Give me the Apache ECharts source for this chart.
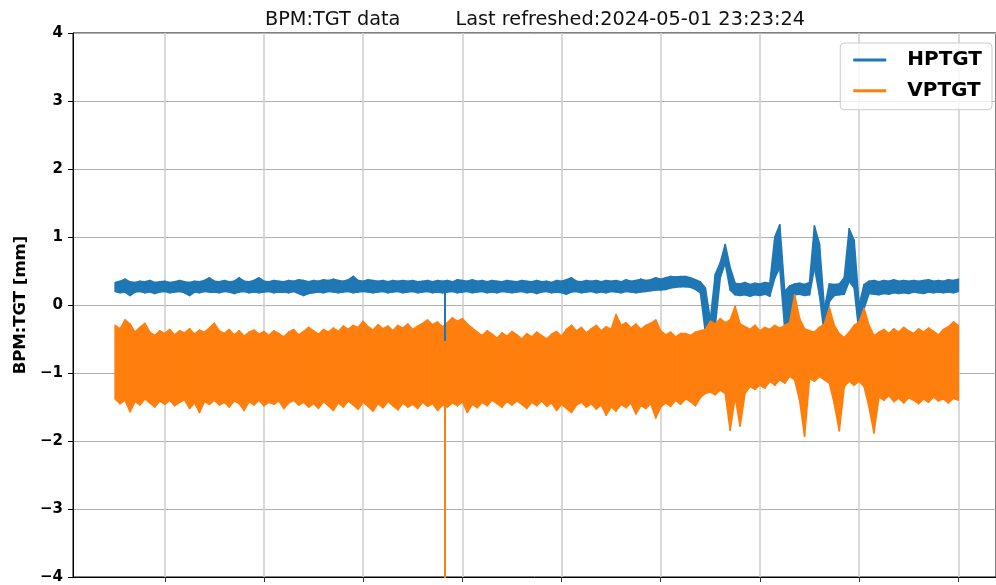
<!DOCTYPE html>
<html>
<head>
<meta charset="utf-8">
<title>BPM:TGT data</title>
<script src="https://cdn.jsdelivr.net/npm/echarts@6/dist/echarts.min.js"></script>
<style>
  html, body { margin: 0; padding: 0; background: #fff; }
  #chart { width: 996px; height: 585px; }
</style>
</head>
<body>
<div id="chart"></div>
<script>
// BPM:TGT readings (mm), one sample every ~5 px of plot width.
// each trace is a noisy band, so keep its upper and lower edge per sample
var hptgtHigh = [
  0.33, 0.35, 0.38, 0.34, 0.33, 0.35, 0.34, 0.36, 0.33, 0.34,
  0.35, 0.33, 0.34, 0.36, 0.34, 0.33, 0.35, 0.34, 0.36, 0.40,
  0.35, 0.34, 0.36, 0.34, 0.35, 0.40, 0.35, 0.34, 0.36, 0.40,
  0.35, 0.34, 0.36, 0.35, 0.34, 0.36, 0.35, 0.37, 0.36, 0.34,
  0.36, 0.35, 0.37, 0.36, 0.38, 0.36, 0.35, 0.37, 0.42, 0.36,
  0.35, 0.37, 0.36, 0.35, 0.36, 0.34, 0.36, 0.35, 0.36, 0.35,
  0.36, 0.34, 0.35, 0.36, 0.34, 0.36, 0.35, 0.36, 0.34, 0.37,
  0.36, 0.35, 0.37, 0.35, 0.36, 0.34, 0.36, 0.35, 0.34, 0.36,
  0.35, 0.34, 0.36, 0.35, 0.34, 0.36, 0.34, 0.35, 0.33, 0.36,
  0.35, 0.37, 0.40, 0.35, 0.34, 0.36, 0.35, 0.36, 0.34, 0.36,
  0.35, 0.36, 0.34, 0.37, 0.35, 0.36, 0.38, 0.36, 0.37, 0.40,
  0.38, 0.40, 0.42, 0.41, 0.42, 0.42, 0.40, 0.37, 0.34, 0.25,
  -0.22, 0.45, 0.62, 0.89, 0.55, 0.32, 0.31, 0.33, 0.30, 0.32,
  0.31, 0.33, 0.32, 1.00, 1.18, 0.20, 0.28, 0.31, 0.32, 0.30,
  0.33, 1.16, 0.90, -0.05, 0.31, 0.30, 0.31, 0.40, 1.12, 0.95,
  0.00, 0.30, 0.35, 0.36, 0.34, 0.36, 0.35, 0.37, 0.35, 0.36,
  0.35, 0.36, 0.35, 0.36, 0.37, 0.35, 0.36, 0.35, 0.37, 0.36, 0.38
];
var hptgtLow = [
  0.20, 0.18, 0.19, 0.14, 0.19, 0.20, 0.18, 0.19, 0.17, 0.19,
  0.20, 0.18, 0.19, 0.20, 0.18, 0.14, 0.19, 0.18, 0.20, 0.19,
  0.19, 0.18, 0.20, 0.19, 0.17, 0.19, 0.20, 0.18, 0.19, 0.18,
  0.19, 0.20, 0.18, 0.19, 0.19, 0.18, 0.20, 0.17, 0.14, 0.17,
  0.18, 0.19, 0.18, 0.20, 0.19, 0.18, 0.19, 0.20, 0.18, 0.19,
  0.20, 0.19, 0.18, 0.19, 0.20, 0.18, 0.19, 0.20, 0.18, 0.19,
  0.20, 0.18, 0.19, 0.20, 0.18, 0.19, 0.18, 0.19, 0.20, 0.18,
  0.19, 0.20, 0.18, 0.19, 0.20, 0.18, 0.19, 0.18, 0.20, 0.19,
  0.18, 0.19, 0.20, 0.18, 0.19, 0.17, 0.19, 0.20, 0.18, 0.19,
  0.18, 0.16, 0.19, 0.20, 0.18, 0.19, 0.20, 0.18, 0.19, 0.18,
  0.20, 0.19, 0.18, 0.20, 0.19, 0.18, 0.19, 0.20, 0.21, 0.22,
  0.22, 0.23, 0.25, 0.26, 0.27, 0.27, 0.26, 0.23, 0.18, -0.40,
  -0.46, -0.30, 0.40, 0.62, 0.22, 0.15, 0.14, 0.15, 0.13, 0.15,
  0.14, 0.16, 0.13, 0.40, 0.55, -0.34, -0.30, 0.15, 0.16, 0.14,
  0.15, 0.55, 0.15, -0.44, 0.05, 0.14, 0.15, 0.16, 0.35, 0.25,
  -0.42, -0.05, 0.17, 0.16, 0.15, 0.17, 0.16, 0.18, 0.17, 0.18,
  0.17, 0.19, 0.18, 0.17, 0.19, 0.18, 0.19, 0.18, 0.19, 0.18, 0.20
];
var vptgtHigh = [
  -0.30, -0.35, -0.22, -0.28, -0.40, -0.33, -0.27, -0.40, -0.45, -0.38,
  -0.42, -0.36, -0.44, -0.38, -0.41, -0.35, -0.43, -0.37, -0.40, -0.34,
  -0.27, -0.38, -0.42, -0.36, -0.44, -0.38, -0.46, -0.40, -0.37, -0.43,
  -0.39, -0.45, -0.38, -0.42, -0.47, -0.40, -0.36, -0.44, -0.39, -0.33,
  -0.38, -0.43, -0.36, -0.40, -0.34, -0.39, -0.31, -0.36, -0.30, -0.33,
  -0.24, -0.32, -0.37, -0.29, -0.35, -0.31, -0.38, -0.30, -0.34, -0.28,
  -0.36, -0.31, -0.27, -0.22, -0.29, -0.25, -0.32, -0.26, -0.19, -0.24,
  -0.20, -0.28, -0.34, -0.40, -0.45, -0.38, -0.43, -0.49, -0.41, -0.46,
  -0.39, -0.44, -0.50, -0.42, -0.47, -0.40, -0.45, -0.50, -0.43, -0.39,
  -0.46, -0.36, -0.30, -0.38, -0.33, -0.41, -0.35, -0.30, -0.38, -0.32,
  -0.36, -0.14, -0.30, -0.26, -0.34, -0.28, -0.36, -0.30, -0.27, -0.22,
  -0.38, -0.44, -0.40, -0.47, -0.42, -0.42, -0.45, -0.40, -0.38, -0.36,
  -0.24, -0.28, -0.20, -0.26, -0.22, -0.02, -0.28, -0.32, -0.36, -0.30,
  -0.38, -0.33, -0.36, -0.30, -0.34, -0.30, -0.26, 0.15, -0.20, -0.35,
  -0.38, -0.40, -0.33, -0.28, -0.04, -0.30, -0.42, -0.48, -0.40, -0.30,
  -0.25, -0.05, -0.30, -0.45, -0.40, -0.36, -0.42, -0.35, -0.40, -0.33,
  -0.38, -0.42, -0.35, -0.40, -0.34, -0.39, -0.44, -0.36, -0.32, -0.25, -0.30
];
var vptgtLow = [
  -1.38, -1.45, -1.40, -1.57, -1.42, -1.47, -1.38, -1.44, -1.50, -1.41,
  -1.46, -1.40, -1.48, -1.43, -1.39, -1.52, -1.44, -1.58, -1.42, -1.46,
  -1.40, -1.47, -1.43, -1.50, -1.41, -1.45, -1.55, -1.42, -1.47, -1.40,
  -1.48, -1.43, -1.46, -1.41, -1.52, -1.44, -1.40, -1.47, -1.43, -1.50,
  -1.45, -1.52, -1.42, -1.48, -1.55, -1.44, -1.50, -1.41, -1.47, -1.53,
  -1.43, -1.49, -1.56, -1.45, -1.51, -1.42, -1.48, -1.54, -1.44, -1.50,
  -1.46, -1.52, -1.43, -1.49, -1.45, -1.55, -1.47, -1.50, -1.44, -1.48,
  -1.42, -1.58, -1.46, -1.51, -1.43, -1.48, -1.40, -1.45, -1.50, -1.42,
  -1.47, -1.41, -1.46, -1.52, -1.43, -1.48, -1.41, -1.49, -1.44, -1.55,
  -1.46, -1.52, -1.58, -1.47, -1.43, -1.50, -1.45, -1.53, -1.47, -1.62,
  -1.50, -1.56, -1.46, -1.51, -1.44, -1.60, -1.48, -1.52, -1.45, -1.66,
  -1.50, -1.44, -1.49, -1.40, -1.46, -1.38, -1.42, -1.48, -1.36, -1.30,
  -1.28, -1.32, -1.25, -1.30, -1.84, -1.35, -1.78, -1.30, -1.20, -1.24,
  -1.18, -1.22, -1.12, -1.18, -1.10, -1.15, -1.05, -1.10, -1.40, -1.93,
  -1.08, -1.12, -1.05, -1.10, -1.15, -1.45, -1.85, -1.20, -1.12, -1.18,
  -1.12, -1.20, -1.50, -1.88, -1.35, -1.40, -1.33, -1.42, -1.37, -1.44,
  -1.36, -1.40, -1.45, -1.38, -1.43, -1.35, -1.41, -1.38, -1.44, -1.37, -1.40
];

// one-sample glitch where both readings jump
var glitchAt = 66.5;
var hptgtGlitch = [0.26, -0.53];
var vptgtGlitch = [-1.3, -4.6];

var xTicks = [10, 30, 50, 70, 90, 110, 130, 150, 170];
var titleText = 'BPM:TGT data         Last refreshed:2024-05-01 23:23:24';

var blue = '#1f77b4';
var orange = '#ff7f0e';
var font = 'DejaVu Sans';

function bandData(high, low) {
  var rows = [];
  for (var i = 0; i < high.length - 1; i++) {
    rows.push([i, high[i], low[i], high[i + 1], low[i + 1]]);
  }
  return rows;
}

// fill between the upper and lower edge, one slice per sample step
function bandShape(color) {
  return function (params, api) {
    var x = api.value(0);
    var pts = [
      api.coord([x, api.value(1)]),
      api.coord([x + 1, api.value(3)]),
      api.coord([x + 1, api.value(4)]),
      api.coord([x, api.value(2)])
    ];
    return {
      type: 'polygon',
      shape: { points: pts },
      style: { fill: color, stroke: color, lineWidth: 1.6, lineJoin: 'round' }
    };
  };
}

var chart = echarts.init(document.getElementById('chart'));
chart.setOption({
  animation: false,
  backgroundColor: '#fff',
  title: {
    text: titleText,
    left: 265,
    top: 10,
    padding: 0,
    textStyle: { fontFamily: font, fontSize: 19.3, fontWeight: 'normal', color: '#111' }
  },
  legend: {
    data: ['HPTGT', 'VPTGT'],
    orient: 'vertical',
    right: 4,
    top: 43,
    padding: [7, 10, 9, 13],
    itemGap: 10.7,
    itemWidth: 33,
    itemHeight: 3,
    icon: 'rect',
    backgroundColor: 'rgba(255,255,255,0.8)',
    borderColor: '#cccccc',
    borderWidth: 1,
    borderRadius: 4,
    textStyle: { fontFamily: font, fontSize: 20, fontWeight: 'bold', color: '#000', padding: [0, 0, 0, 16] }
  },
  grid: {
    left: 73, right: -3, top: 33, bottom: 8,
    show: true, borderColor: '#000', borderWidth: 1
  },
  xAxis: {
    type: 'value',
    min: -8.5,
    max: 177.6,
    axisLine: { show: true, onZero: false, lineStyle: { color: '#000', width: 1 } },
    axisTick: { show: true, customValues: xTicks, length: 5, lineStyle: { color: '#333' } },
    axisLabel: { show: false },
    splitLine: { show: true, lineStyle: { color: '#d0d0d0', width: 1.6 } }
  },
  yAxis: {
    type: 'value',
    min: -4,
    max: 4,
    interval: 1,
    name: 'BPM:TGT [mm]',
    nameLocation: 'middle',
    nameGap: 43,
    nameTextStyle: { fontFamily: font, fontSize: 16.5, fontWeight: 'bold', color: '#000' },
    axisLine: { show: true, onZero: false, lineStyle: { color: '#000', width: 1 } },
    axisTick: { show: true, length: 5, lineStyle: { color: '#000' } },
    axisLabel: {
      margin: 10,
      fontFamily: font, fontSize: 15, fontWeight: 'bold', color: '#000',
      formatter: function (v) { return v < 0 ? '\u2212' + Math.abs(v) : String(v); }
    },
    splitLine: { show: true, lineStyle: { color: '#b0b0b0', width: 1 } }
  },
  series: [
    {
      name: 'HPTGT',
      type: 'custom',
      renderItem: bandShape(blue),
      data: bandData(hptgtHigh, hptgtLow),
      encode: { x: 0, y: [1, 2, 3, 4] },
      itemStyle: { color: blue },
      clip: true,
      silent: true,
      z: 2
    },
    {
      name: 'VPTGT',
      type: 'custom',
      renderItem: bandShape(orange),
      data: bandData(vptgtHigh, vptgtLow),
      encode: { x: 0, y: [1, 2, 3, 4] },
      itemStyle: { color: orange },
      clip: true,
      silent: true,
      z: 3
    },
    {
      name: 'HPTGT glitch',
      type: 'line',
      data: [[glitchAt, hptgtGlitch[0]], [glitchAt, hptgtGlitch[1]]],
      showSymbol: false,
      lineStyle: { color: blue, width: 2 },
      silent: true,
      z: 4
    },
    {
      name: 'VPTGT glitch',
      type: 'line',
      data: [[glitchAt, vptgtGlitch[0]], [glitchAt, vptgtGlitch[1]]],
      showSymbol: false,
      clip: true,
      lineStyle: { color: orange, width: 2 },
      silent: true,
      z: 4
    }
  ]
});
</script>
</body>
</html>
